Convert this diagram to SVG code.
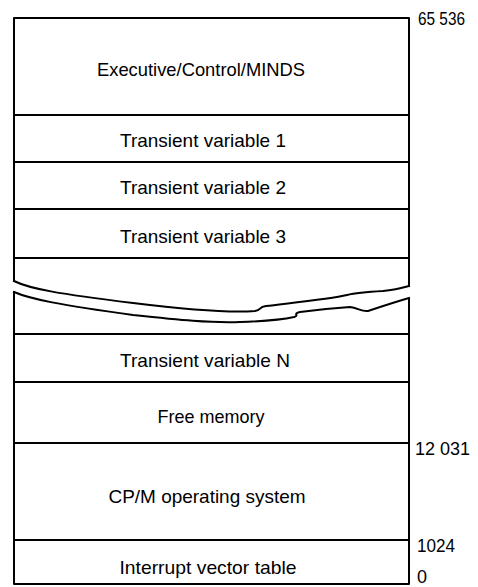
<svg xmlns="http://www.w3.org/2000/svg" width="478" height="587" viewBox="0 0 478 587">
<style>
.ln{stroke:#000;stroke-width:2;fill:none;stroke-linejoin:round;stroke-linecap:square}
.t{font-family:"Liberation Sans Narrow","Liberation Sans",Arial,sans-serif;font-size:19px;fill:#000;text-anchor:middle}
.n{font-family:"Liberation Sans Narrow","Liberation Sans",Arial,sans-serif;font-size:18px;fill:#000}
</style>
<rect width="478" height="587" fill="#fff"/>
<g id="frame">
<path class="ln" d="M14,281 L14,18 L409,18 L409,286"/>
<path class="ln" d="M14,292 L14,584 L409,584 L409,299"/>
<path class="ln" d="M14,281 C30,289 60,294 133,303 C190,310 230,313 255,311 C262,310 258,307 266,306 C290,303 330,299 347,295 C355,293 365,292 383,291 C395,290 402,288 409,286"/>
<path class="ln" d="M14,292 C30,299 60,305 133,315 C180,320 210,323 240,322 C270,321 285,319 294,317 C300,315 292,314 300,312 C315,310 335,308 350,307 C358,308 362,312 368,311 C380,307 395,302 409,298"/>
</g>
<g id="connectors">
<line class="ln" x1="14" y1="115" x2="409" y2="115"/>
<line class="ln" x1="14" y1="162" x2="409" y2="162"/>
<line class="ln" x1="14" y1="209" x2="409" y2="209"/>
<line class="ln" x1="14" y1="258" x2="409" y2="258"/>
<line class="ln" x1="14" y1="334" x2="409" y2="334"/>
<line class="ln" x1="14" y1="382" x2="409" y2="382"/>
<line class="ln" x1="14" y1="443" x2="409" y2="443"/>
<line class="ln" x1="14" y1="540" x2="409" y2="540"/>
</g>
<g id="exec"><text class="t" x="201" y="76" textLength="208" lengthAdjust="spacingAndGlyphs">Executive/Control/MINDS</text></g>
<g id="tv1"><text class="t" x="203" y="147" textLength="166" lengthAdjust="spacingAndGlyphs">Transient variable 1</text></g>
<g id="tv2"><text class="t" x="203" y="194" textLength="166" lengthAdjust="spacingAndGlyphs">Transient variable 2</text></g>
<g id="tv3"><text class="t" x="203" y="243" textLength="166" lengthAdjust="spacingAndGlyphs">Transient variable 3</text></g>
<g id="tvn"><text class="t" x="205" y="367" textLength="170" lengthAdjust="spacingAndGlyphs">Transient variable N</text></g>
<g id="free"><text class="t" x="211" y="423" textLength="107" lengthAdjust="spacingAndGlyphs">Free memory</text></g>
<g id="cpm"><text class="t" x="207" y="503" textLength="197" lengthAdjust="spacingAndGlyphs">CP/M operating system</text></g>
<g id="ivt"><text class="t" x="208" y="574" textLength="177" lengthAdjust="spacingAndGlyphs">Interrupt vector table</text></g>
<g id="addresses">
<text class="n" x="418" y="25" textLength="47" lengthAdjust="spacingAndGlyphs">65 536</text>
<text class="n" x="415" y="455" textLength="55" lengthAdjust="spacingAndGlyphs">12 031</text>
<text class="n" x="417" y="552" textLength="38" lengthAdjust="spacingAndGlyphs">1024</text>
<text class="n" x="417" y="583" font-size="14">0</text>
</g>
</svg>
